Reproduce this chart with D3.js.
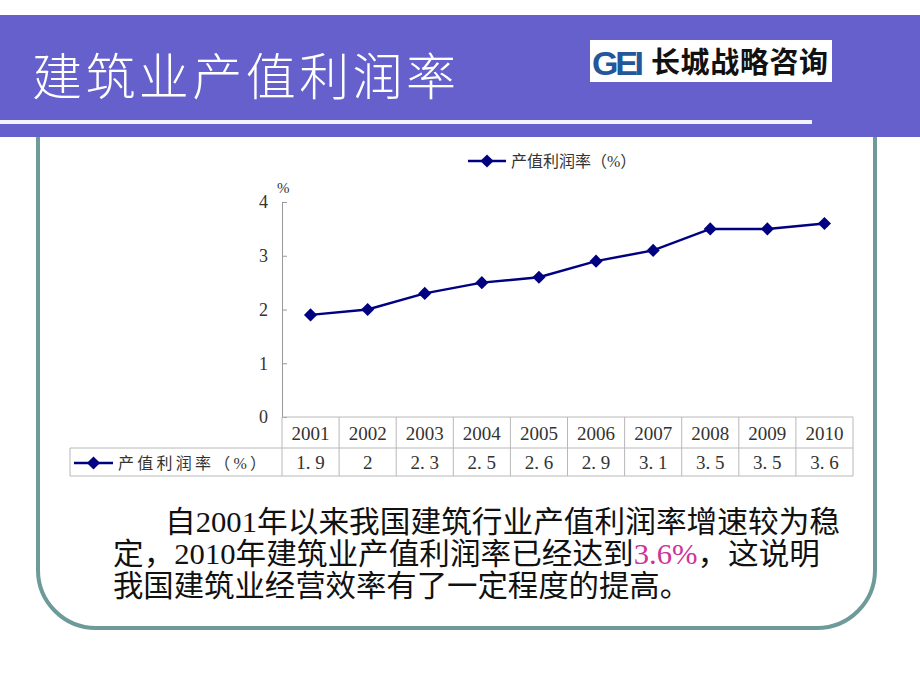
<!DOCTYPE html>
<html><head><meta charset="utf-8">
<script src="https://cdn.jsdelivr.net/npm/d3@7"></script>
<style>body{margin:0;background:#fff;}svg{display:block;}</style>
</head><body>
<svg id="c" width="920" height="690"></svg>
<script>
const years = ["2001","2002","2003","2004","2005","2006","2007","2008","2009","2010"];
const values = [1.9, 2, 2.3, 2.5, 2.6, 2.9, 3.1, 3.5, 3.5, 3.6];
const yTicks = [0, 1, 2, 3, 4];
const seriesName = "产值利润率（%）";
const titleText = "建筑业产值利润率";
const paraLines = [
  [{t:"自2001年以来我国建筑行业产值利润率增速较为稳"}],
  [{t:"定，2010年建筑业产值利润率已经达到"},{t:"3.6%",hl:true},{t:"，这说明"}],
  [{t:"我国建筑业经营效率有了一定程度的提高。"}]
];

const svg = d3.select("#c");
const serif = "'Liberation Serif','Noto Sans CJK SC',serif";
const navy = "#000080";

// frame (rounded rect)
svg.append("rect").attr("x",38).attr("y",60).attr("width",837).attr("height",568)
  .attr("rx",58).attr("ry",58).attr("fill","#fff").attr("stroke","#6e9a9a").attr("stroke-width",4);

// header band
svg.append("rect").attr("x",0).attr("y",15).attr("width",920).attr("height",122).attr("fill","#6660cc");
svg.append("rect").attr("x",0).attr("y",120).attr("width",812).attr("height",4).attr("fill","#f4f4ff");
svg.append("text").attr("x",32).attr("y",95).attr("fill","#fff")
  .attr("font-family",serif).attr("font-size",50).attr("font-weight",300).attr("textLength",424)
  .text(titleText);

// logo
svg.append("rect").attr("x",590).attr("y",40).attr("width",242).attr("height",42).attr("fill","#fff");
svg.append("text").attr("x",592).attr("y",75).attr("fill","#24569a")
  .attr("font-family","'Liberation Sans',Arial,sans-serif").attr("font-weight","bold")
  .attr("font-size",34).attr("textLength",52).text("GEI");
svg.append("text").attr("x",651).attr("y",73).attr("fill","#111")
  .attr("font-family","'Noto Sans CJK SC',sans-serif").attr("font-weight","bold")
  .attr("font-size",29).attr("textLength",177).text("长城战略咨询");

// scales
const x = d3.scaleBand().domain(years).range([282,853]).padding(0);
const y = d3.scaleLinear().domain([0,4]).range([417,202]);
const cx = d => x(d) + x.bandwidth()/2;

// y axis
const gy = svg.append("g").attr("transform","translate(282,0)")
  .call(d3.axisLeft(y).tickValues(yTicks).tickSize(-5).tickPadding(14).tickFormat(d3.format("d")));
gy.select(".domain").attr("stroke","#999");
gy.selectAll(".tick line").attr("stroke","#999");
gy.selectAll(".tick text").attr("font-family",serif).attr("font-size",18).attr("fill","#333");
svg.append("text").attr("x",277).attr("y",193).attr("font-family",serif).attr("font-size",15).attr("fill","#333").text("%");

// line
const diamond = d3.symbol().type(d3.symbolDiamond2).size(110);
svg.append("path").datum(values)
  .attr("d", d3.line().x((d,i)=>cx(years[i])).y(d=>y(d)))
  .attr("fill","none").attr("stroke",navy).attr("stroke-width",2.5);
svg.selectAll(".pt").data(values).join("path").attr("class","pt")
  .attr("transform",(d,i)=>`translate(${cx(years[i])},${y(d)})`)
  .attr("d",diamond).attr("fill",navy);

// legend top
function legendKey(g, x0, x1, yy){
  g.append("line").attr("x1",x0).attr("x2",x1).attr("y1",yy).attr("y2",yy).attr("stroke",navy).attr("stroke-width",2.5);
  g.append("path").attr("transform",`translate(${(x0+x1)/2},${yy})`).attr("d",diamond).attr("fill",navy);
}
legendKey(svg, 468, 506, 161);
svg.append("text").attr("x",511).attr("y",167).attr("font-family",serif).attr("font-size",16).attr("fill","#333").text(seriesName);

// data table
const tTop = 417, tMid = 448, tBot = 476, tLeft = 70, tRight = 853;
const grid = "#b8b8b8";
const tg = svg.append("g");
tg.append("line").attr("x1",282).attr("x2",tRight).attr("y1",tTop).attr("y2",tTop).attr("stroke",grid);
tg.append("line").attr("x1",tLeft).attr("x2",tRight).attr("y1",tMid).attr("y2",tMid).attr("stroke",grid);
tg.append("line").attr("x1",tLeft).attr("x2",tRight).attr("y1",tBot).attr("y2",tBot).attr("stroke",grid);
tg.append("line").attr("x1",tLeft).attr("x2",tLeft).attr("y1",tMid).attr("y2",tBot).attr("stroke",grid);
tg.selectAll(".vl").data(years.concat(["end"])).join("line").attr("class","vl")
  .attr("x1",d=>d==="end"?tRight:x(d)).attr("x2",d=>d==="end"?tRight:x(d))
  .attr("y1",tTop).attr("y2",tBot).attr("stroke",grid);
tg.selectAll(".yr").data(years).join("text").attr("class","yr")
  .attr("x",d=>cx(d)).attr("y",440).attr("text-anchor","middle")
  .attr("font-family",serif).attr("font-size",19).attr("fill","#333").text(d=>d);
tg.selectAll(".vv").data(values).join("text").attr("class","vv")
  .attr("x",(d,i)=>cx(years[i])).attr("y",469).attr("text-anchor","middle")
  .attr("font-family",serif).attr("font-size",19).attr("fill","#333")
  .text(d=>String(d).replace(".",". "));
legendKey(tg, 74, 113, 463);
tg.append("text").attr("x",118).attr("y",469).attr("font-family",serif).attr("font-size",16).attr("fill","#333")
  .attr("textLength",148).text(seriesName);

// paragraph
const starts = [165, 113, 113];
const widths = [675, 707, 577];
const baselines = [532, 564, 596];
paraLines.forEach((segs,i)=>{
  const t = svg.append("text").attr("x",starts[i]).attr("y",baselines[i])
    .attr("font-family",serif).attr("font-size",30).attr("fill","#111")
    .attr("textLength",widths[i]).attr("lengthAdjust","spacingAndGlyphs");
  segs.forEach(s=>t.append("tspan").attr("fill",s.hl?"#cc3399":"#111").text(s.t));
});
</script>
</body></html>
